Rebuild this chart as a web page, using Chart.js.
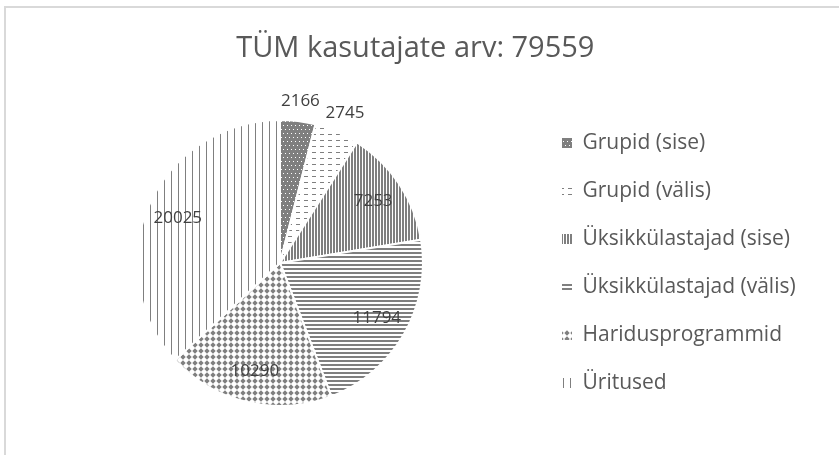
<!DOCTYPE html>
<html>
<head>
<meta charset="utf-8">
<script src="https://cdn.jsdelivr.net/npm/chart.js@4"></script>
<style>
  body { margin: 0; background: #fff; }
  #wrap { position: relative; width: 839px; height: 455px; }
</style>
</head>
<body>
<div id="wrap"><canvas id="chart"></canvas></div>
<script>
// Andmed
const categories = ['Grupid (sise)', 'Grupid (välis)', 'Üksikkülastajad (sise)', 'Üksikkülastajad (välis)', 'Haridusprogrammid', 'Üritused'];
const values = [2166, 2745, 7253, 11794, 10290, 20025];
const titleText = 'TÜM kasutajate arv: 79559';

const GRAY = '#7f7f7f';
const FONT = '"Open Sans", "Liberation Sans", sans-serif';

// Mustrid (Exceli stiilis täidised)
function makePattern(w, h, draw) {
    const c = document.createElement('canvas');
    c.width = w;
    c.height = h;
    const g = c.getContext('2d');
    g.fillStyle = '#fff';
    g.fillRect(0, 0, w, h);
    g.fillStyle = GRAY;
    draw(g);
    return g.createPattern(c, 'repeat');
}

const patterns = [
    // tume täidis valgete punktidega
    makePattern(4, 8, g => {
        g.fillRect(0, 0, 4, 8);
        g.fillStyle = '#fff';
        g.fillRect(1, 1, 1, 1);
        g.fillRect(3, 5, 1, 1);
    }),
    // horisontaalsed kriipsud
    makePattern(8, 6, g => {
        g.fillRect(0, 2, 4, 1);
    }),
    // tihedad vertikaalsed jooned
    makePattern(3, 1, g => {
        g.fillRect(0, 0, 2, 1);
    }),
    // horisontaalsed jooned
    makePattern(1, 4, g => {
        g.fillRect(0, 0, 1, 2);
    }),
    // rombid
    makePattern(6, 6, g => {
        g.beginPath();
        g.moveTo(3, 0.3);
        g.lineTo(5.7, 3);
        g.lineTo(3, 5.7);
        g.lineTo(0.3, 3);
        g.closePath();
        g.fill();
    }),
    // hõredad vertikaalsed jooned
    makePattern(7, 1, g => {
        g.fillRect(3, 0, 1, 1);
    })
];

// Legendi laius -> parempoolne vahe
const legendFontSize = 21;
const legendPad = 27;
const legendBox = 10;
const measureCtx = document.createElement('canvas').getContext('2d');
measureCtx.font = `normal ${legendFontSize}px ${FONT}`;
const textW = Math.max(...categories.map(t => measureCtx.measureText(t).width));
const legendLeft = 535;
const rightPad = Math.max(0, 839 - legendLeft - (legendPad + legendBox + legendFontSize / 2 + textW + 10));

// Raam ümber diagrammi
const framePlugin = {
    id: 'frame',
    beforeDraw(chart) {
        const ctx = chart.ctx;
        ctx.save();
        ctx.fillStyle = '#fff';
        ctx.fillRect(0, 0, chart.width, chart.height);
        ctx.strokeStyle = '#d9d9d9';
        ctx.lineWidth = 2;
        ctx.strokeRect(5, 7, chart.width + 20, chart.height + 20);
        ctx.restore();
    }
};

// Väärtuste sildid
const labelPlugin = {
    id: 'sliceLabels',
    afterDatasetsDraw(chart) {
        const ctx = chart.ctx;
        const meta = chart.getDatasetMeta(0);
        const data = chart.data.datasets[0].data;
        const total = data.reduce((a, b) => a + b, 0);
        ctx.save();
        ctx.font = `normal 17px ${FONT}`;
        ctx.fillStyle = '#404040';
        ctx.textAlign = 'center';
        ctx.textBaseline = 'middle';
        meta.data.forEach((arc, i) => {
            const p = arc.getProps(['x', 'y', 'startAngle', 'endAngle', 'outerRadius'], true);
            const mid = (p.startAngle + p.endAngle) / 2;
            const dist = data[i] / total < 0.06 ? p.outerRadius + 20 : p.outerRadius * 0.78;
            ctx.fillText(String(data[i]), p.x + Math.cos(mid) * dist, p.y + Math.sin(mid) * dist);
        });
        ctx.restore();
    }
};

const defaultLabels = Chart.overrides.doughnut.plugins.legend.labels.generateLabels;

new Chart(document.getElementById('chart'), {
    type: 'pie',
    data: {
        labels: categories,
        datasets: [{
            data: values,
            backgroundColor: patterns,
            borderColor: '#ffffff',
            borderWidth: 2,
            radius: 143
        }]
    },
    options: {
        responsive: true,
        maintainAspectRatio: false,
        animation: false,
        layout: {
            padding: { top: 0, left: 25, right: rightPad, bottom: 29 }
        },
        plugins: {
            title: {
                display: true,
                text: titleText,
                color: '#595959',
                font: { family: FONT, size: 29, weight: 'normal' },
                padding: { top: 31, bottom: 34 }
            },
            legend: {
                position: 'right',
                align: 'center',
                fullSize: false,
                labels: {
                    boxWidth: legendBox,
                    boxHeight: legendBox,
                    padding: legendPad,
                    color: '#595959',
                    font: { family: FONT, size: legendFontSize },
                    generateLabels(chart) {
                        return defaultLabels(chart).map(l => Object.assign(l, { lineWidth: 0 }));
                    }
                }
            },
            tooltip: { enabled: false }
        }
    },
    plugins: [framePlugin, labelPlugin]
});
</script>
</body>
</html>
